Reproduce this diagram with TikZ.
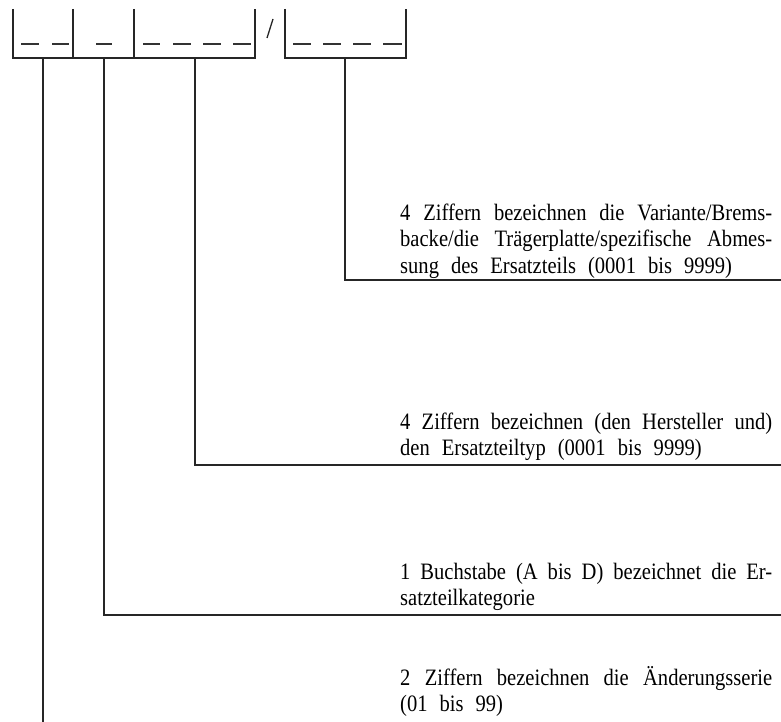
\documentclass[tikz,border=0pt]{standalone}
\usepackage{fontspec}
\usepackage{graphicx}
\setmainfont{Liberation Serif}
\begin{document}
\begin{tikzpicture}[x=1pt,y=-1pt,
  rule/.style={line width=1.3pt,black!85},
  slot/.style={line width=1.4pt,black!80},
  desc/.style={anchor=base west,inner sep=0pt,text width=372pt,
    font=\fontsize{23.5}{26.5}\selectfont}]
\useasboundingbox (0,0) rectangle (781,722);
% the set text is narrow: every line is condensed to 87.5 %
\newcommand{\narrow}[1]{\leavevmode\scalebox{0.875}[1]{#1}}
% a justified line: all interword spaces share the slack equally
\newcommand{\fullline}[1]{\narrow{\hbox to 425.1pt{\spaceskip=13.7pt plus 1fil minus 5pt\relax\xspaceskip=\spaceskip #1}}}
% a closing line with the loose, fixed word spacing
\newcommand{\lastline}[1]{\narrow{\hbox{\spaceskip=13.7pt\relax\xspaceskip=\spaceskip #1}}}

% code field frames
\draw[rule] (13,9) -- (13,58) -- (255,58) -- (255,9);
\draw[rule] (73,9) -- (73,58);
\draw[rule] (134,9) -- (134,58);
\draw[rule] (285,9) -- (285,58) -- (406,58) -- (406,9);
\draw[rule] (267,38) -- (273,19);

% digit placeholders
\foreach \a/\b in {21/39,52/69,96/112,143/160,173/191,203/221,233/251,293/311,323/341,353/371,383/402}
  \draw[slot] (\a,44) -- (\b,44);

% stems of the four groups
\coordinate (s1) at (43,58);
\coordinate (s2) at (104,58);
\coordinate (s3) at (195,58);
\coordinate (s4) at (345,58);
\coordinate (e1) at (43,722);
\coordinate (e2) at (781,615);
\coordinate (e3) at (781,465);
\coordinate (e4) at (781,280);

\draw[rule] (s1) -- (e1);
\draw[rule] (s2) |- (e2);
\draw[rule] (s3) |- (e3);
\draw[rule] (s4) |- (e4);

% descriptions
\node[desc] (t4) at (400,220) {\fullline{4 Ziffern bezeichnen die Variante/Brems-}\\
\fullline{backe/die Trägerplatte/spezifische Abmes-}\\
\lastline{sung des Ersatzteils (0001 bis 9999)}};

\node[desc] (t3) at (400,429) {\fullline{4 Ziffern bezeichnen (den Hersteller und)}\\
\lastline{den Ersatzteiltyp (0001 bis 9999)}};

\node[desc] (t2) at (400,579) {\fullline{1 Buchstabe (A bis D) bezeichnet die Er-}\\
\lastline{satzteilkategorie}};

\node[desc] (t1) at (400,685) {\fullline{2 Ziffern bezeichnen die Änderungsserie}\\
\lastline{(01 bis 99)}};
\end{tikzpicture}
\end{document}
